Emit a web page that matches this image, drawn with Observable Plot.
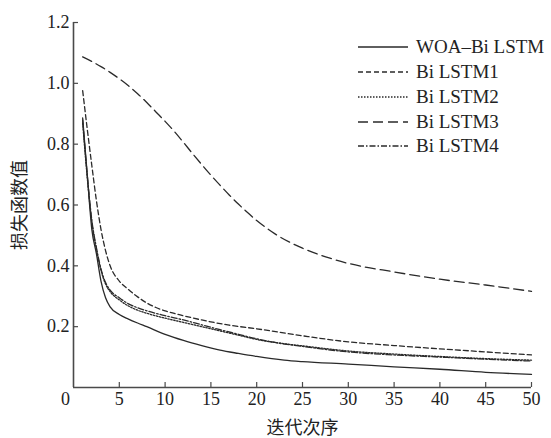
<!DOCTYPE html>
<html><head><meta charset="utf-8">
<script src="https://cdn.jsdelivr.net/npm/d3@7"></script>
<script src="https://cdn.jsdelivr.net/npm/@observablehq/plot@0.6"></script>
<style>
body{margin:0;background:#fff;}
#wrap{position:relative;width:551px;height:438px;}
#wrap svg{font-family:"Liberation Serif",serif;}
#wrap svg g[aria-label$="tick label"]{font-family:"Liberation Serif",serif !important;font-size:18px;}
#wrap svg g[aria-label$="tick label"] text{font-family:"Liberation Serif",serif !important;}
#legend{position:absolute;left:358px;top:35px;font-family:"Liberation Serif",serif;font-size:19px;color:#222;}
.row{display:flex;align-items:center;height:24.75px;white-space:nowrap;}
.row svg{margin-right:8px;}
</style></head><body><div id="wrap"><div id="legend"></div></div>
<script>
const seriesNames = ["WOA\u2013Bi LSTM", "Bi LSTM1", "Bi LSTM2", "Bi LSTM3", "Bi LSTM4"];
const dashes = [null, "5,3", "1.5,1.5", "10,5", "6,2,1.5,2"];
const xTicks = [0,5,10,15,20,25,30,35,40,45,50];
const yTicks = [0.2,0.4,0.6,0.8,1.0,1.2];
const xLabel = "迭代次序";
const yLabel = "损失函数值";

const iterWOA = [1,1.5,2,2.5,3,3.5,4,5,6,7,8,10,12,14,16,18,20,23,25,30,35,40,45,50];
const lossWOA = [0.886,0.70,0.52,0.44,0.35,0.295,0.265,0.24,0.225,0.212,0.2,0.175,0.155,0.138,0.123,0.112,0.102,0.09,0.085,0.077,0.068,0.06,0.05,0.043];

const iter1 = [1,1.5,2,2.5,3,3.5,4,5,6,7,8,9,10,12,14,17,20,25,30,35,40,45,50];
const loss1 = [0.976,0.85,0.73,0.615,0.52,0.45,0.4,0.35,0.322,0.298,0.278,0.263,0.252,0.236,0.222,0.205,0.193,0.17,0.15,0.138,0.127,0.117,0.107];

const iter2 = [1,1.5,2,2.5,3,3.5,4,5,6,7,8,10,12,14,16,18,20,22,25,30,35,40,45,50];
const loss2 = [0.87,0.69,0.545,0.455,0.385,0.34,0.315,0.288,0.268,0.254,0.244,0.228,0.214,0.2,0.186,0.172,0.158,0.148,0.137,0.12,0.11,0.102,0.095,0.09];

const iter3 = [1,2,3,4,5,6,7,8,9,10,11,12,13,14,15,16,17,18,19,20,22,25,28,30,35,40,45,50];
const loss3 = [1.087,1.072,1.055,1.036,1.015,0.992,0.966,0.937,0.906,0.875,0.842,0.806,0.769,0.733,0.698,0.665,0.633,0.603,0.575,0.549,0.505,0.458,0.425,0.408,0.38,0.356,0.337,0.316];

const iter4 = [1,1.5,2,2.5,3,3.5,4,5,6,7,8,10,12,14,16,18,20,22,25,30,35,40,45,50];
const loss4 = [0.88,0.70,0.55,0.46,0.39,0.345,0.32,0.295,0.275,0.262,0.252,0.236,0.222,0.206,0.19,0.175,0.16,0.148,0.135,0.117,0.107,0.1,0.093,0.087];

const iters = [iterWOA, iter1, iter2, iter3, iter4];
const losses = [lossWOA, loss1, loss2, loss3, loss4];
const data = [];
seriesNames.forEach((name, i) => iters[i].forEach((x, j) => data.push({series: name, idx: i, x, y: losses[i][j]})));

const lineColor = "#2a2a2a";
const axisColor = "#4a4a4a";
const serifFont = "Liberation Serif";
const cjkFont = "Noto Sans CJK SC";

const lineMarks = seriesNames.map((name, i) =>
  Plot.line(data.filter(d => d.idx === i), {
    x: "x", y: "y", curve: "monotone-x",
    stroke: lineColor, strokeWidth: 1.3,
    strokeDasharray: dashes[i] || undefined
  })
);

const chart = Plot.plot({
  width: 551, height: 438,
  marginLeft: 73, marginRight: 20, marginTop: 22, marginBottom: 51,
  x: {domain: [0, 50]},
  y: {domain: [0, 1.2]},
  style: {fontSize: "18px", color: "#222", background: "white"},
  marks: [
    Plot.axisY(yTicks, {tickSize: 0, tickPadding: 4, tickFormat: d3.format(".1f"), fontSize: 18, fontFamily: serifFont, label: null}),
    Plot.axisX(xTicks.filter(d => d > 0), {tickSize: 0, tickPadding: 5, fontSize: 18, fontFamily: serifFont, label: null}),
    Plot.axisX(xTicks.filter(d => d === 0), {tickSize: 0, tickPadding: 5, dx: -8, fontSize: 18, fontFamily: serifFont, label: null}),
    Plot.tickX(xTicks.filter(d => d > 0), {x: d => d, insetTop: 360, stroke: axisColor, strokeWidth: 1.2}),
    Plot.tickY(yTicks, {y: d => d, insetRight: 453, stroke: axisColor, strokeWidth: 1.2}),
    Plot.ruleX([0], {stroke: axisColor, strokeWidth: 1.6}),
    Plot.ruleY([0], {stroke: axisColor, strokeWidth: 1.6}),
    ...lineMarks,
    Plot.text([xLabel], {text: d => d, frameAnchor: "bottom", dy: 41, textAnchor: "middle", lineAnchor: "middle", fontFamily: cjkFont, fontSize: 18, fill: "#222"}),
    Plot.text([yLabel], {text: d => d, frameAnchor: "left", dx: -53, rotate: -90, textAnchor: "middle", lineAnchor: "middle", fontFamily: cjkFont, fontSize: 18, fill: "#222"})
  ]
});
const wrap = document.getElementById("wrap");
wrap.insertBefore(chart, wrap.firstChild);

const legend = document.getElementById("legend");
seriesNames.forEach((name, i) => {
  const row = document.createElement("div");
  row.className = "row";
  const svg = d3.create("svg").attr("width", 50).attr("height", 10);
  svg.append("line").attr("x1", 0).attr("x2", 50).attr("y1", 5).attr("y2", 5)
    .attr("stroke", lineColor).attr("stroke-width", 1.3)
    .attr("stroke-dasharray", dashes[i]);
  row.appendChild(svg.node());
  const span = document.createElement("span");
  span.textContent = name;
  row.appendChild(span);
  legend.appendChild(row);
});
</script></body></html>
